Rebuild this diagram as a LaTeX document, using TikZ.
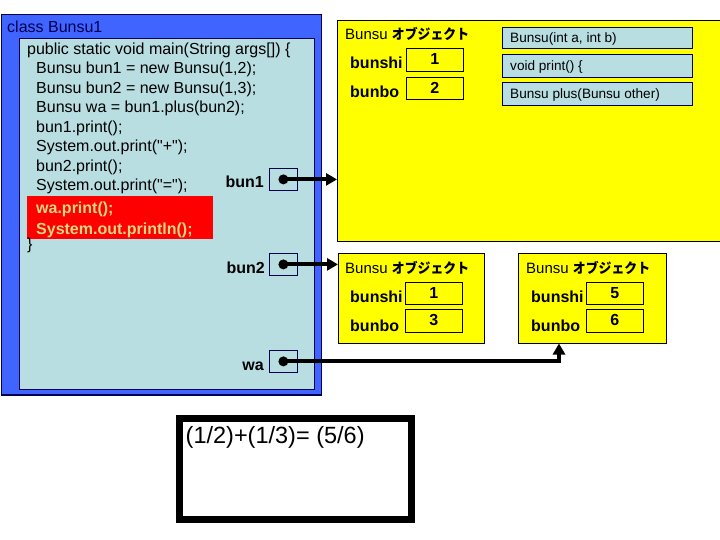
\documentclass[tikz,border=0pt]{standalone}
\usepackage{fontspec}
\setmainfont{Liberation Sans}
\newfontfamily\jp{Noto Sans CJK JP}
\usetikzlibrary{arrows.meta}
\definecolor{outerblue}{RGB}{64,100,255}
\definecolor{navy}{RGB}{0,0,80}
\definecolor{lblue}{RGB}{185,222,226}
\definecolor{yel}{RGB}{255,255,0}
\definecolor{hired}{RGB}{255,0,0}
\definecolor{khaki}{RGB}{225,215,130}
\tikzset{
  box/.style={rectangle, inner sep=0pt, anchor=north west},
  code/.style={anchor=base west, inner sep=0pt, font=\fontsize{16}{19}\selectfont},
  lab/.style={anchor=base west, inner sep=0pt, font=\fontsize{16}{19}\selectfont\bfseries},
  val/.style={box, draw=black, line width=0.8pt, font=\fontsize{16}{19}\selectfont\bfseries},
  meth/.style={box, draw=navy, fill=lblue, line width=0.8pt},
  methtext/.style={anchor=base west, inner sep=0pt, font=\fontsize{13.6}{15}\selectfont},
  title/.style={anchor=base west, inner sep=0pt, font=\fontsize{15}{18}\selectfont},
  ptr/.style={box, draw=navy, line width=0.8pt, minimum width=28pt, minimum height=22pt},
  dot/.style={circle, fill=black, inner sep=0pt, minimum size=10pt},
  arr/.style={line width=4pt, -{Triangle[length=11pt,width=12pt]}},
}
\newcommand{\kana}{{\jp\bfseries\fontsize{14}{16}\selectfont\scalebox{0.92}[1]{オブジェクト}}}
\begin{document}
\begin{tikzpicture}[x=1pt,y=-1pt]
\useasboundingbox (0,0) rectangle (720,540);
\clip (0,0) rectangle (720,540);
% class box
\node[box, fill=outerblue, draw=navy, line width=1.5pt, minimum width=320pt, minimum height=380pt] (outer) at (0.75,14) {};
\node[box, fill=lblue, draw=navy, line width=1pt, minimum width=295pt, minimum height=351pt] (inner) at (19,38) {};
\node[anchor=base west, inner sep=0pt, text=navy, font=\fontsize{16}{19}\selectfont] (cls) at (7,33) {class Bunsu1};
% red highlight
\node[box, fill=hired, minimum width=186pt, minimum height=43pt] (red) at (27,196) {};
% code lines
\node[code] (c1) at (27,54.5) {public static void main(String args[]) \{};
\node[code] (c2) at (36,74) {Bunsu bun1 = new Bunsu(1,2);};
\node[code] (c3) at (36,93.5) {Bunsu bun2 = new Bunsu(1,3);};
\node[code] (c4) at (36,113) {Bunsu wa = bun1.plus(bun2);};
\node[code] (c5) at (36,132.5) {bun1.print();};
\node[code] (c6) at (36,152) {System.out.print(\textquotedbl+\textquotedbl);};
\node[code] (c7) at (36,171.5) {bun2.print();};
\node[code] (c8) at (36,191) {System.out.print(\textquotedbl=\textquotedbl);};
\node[code, text=khaki, font=\fontsize{16}{19}\selectfont\bfseries] (c9) at (36,214) {wa.print();};
\node[code, text=khaki, font=\fontsize{16}{19}\selectfont\bfseries] (c10) at (36,234) {System.out.println();};
\node[code] (c11) at (27,249) {\}};
% pointer variables
\node[ptr] (p1) at (269,168) {};
\node[ptr] (p2) at (269,253) {};
\node[ptr] (p3) at (269,350) {};
\node[dot] (d1) at (p1.center) {};
\node[dot] (d2) at (p2.center) {};
\node[dot] (d3) at (p3.center) {};
\node[lab, anchor=base east] (l1) at (264,188) {bun1};
\node[lab, anchor=base east] (l2) at (265,273) {bun2};
\node[lab, anchor=base east] (l3) at (264,370) {wa};
% object 1 (big)
\node[box, fill=yel, draw=black, line width=1pt, minimum width=400pt, minimum height=221pt] (o1) at (337,20) {};
\node[title] (t1) at (345,40) {Bunsu \kana};
\node[lab] (o1a) at (350,69) {bunshi};
\node[val, minimum width=57pt, minimum height=23pt] (o1v1) at (406,48) {\raisebox{1.5pt}{1}};
\node[lab] (o1b) at (350,98) {bunbo};
\node[val, minimum width=57pt, minimum height=22pt] (o1v2) at (406,77) {\raisebox{1.5pt}{2}};
\node[meth, minimum width=190pt, minimum height=21pt] (m1) at (502,27) {};
\node[methtext] (m1t) at (510,43) {Bunsu(int a, int b)};
\node[meth, minimum width=190pt, minimum height=23pt] (m2) at (502,54) {};
\node[methtext] (m2t) at (510,71) {void print() \{};
\node[meth, minimum width=190pt, minimum height=23pt] (m3) at (502,82) {};
\node[methtext] (m3t) at (510,99) {Bunsu plus(Bunsu other)};
% object 2
\node[box, fill=yel, draw=black, line width=1pt, minimum width=146pt, minimum height=90pt] (o2) at (338,253) {};
\node[title] (t2) at (345,273) {Bunsu \kana};
\node[lab] (o2a) at (350,302) {bunshi};
\node[val, minimum width=57pt, minimum height=22pt] (o2v1) at (405,282) {\raisebox{1.5pt}{1}};
\node[lab] (o2b) at (350,331) {bunbo};
\node[val, minimum width=57pt, minimum height=23pt] (o2v2) at (405,309) {\raisebox{1.5pt}{3}};
% object 3
\node[box, fill=yel, draw=black, line width=1pt, minimum width=148pt, minimum height=90pt] (o3) at (518,253) {};
\node[title] (t3) at (526,273) {Bunsu \kana};
\node[lab] (o3a) at (531,302) {bunshi};
\node[val, minimum width=57pt, minimum height=22pt] (o3v1) at (586,282) {\raisebox{1.5pt}{5}};
\node[lab] (o3b) at (531,331) {bunbo};
\node[val, minimum width=57pt, minimum height=23pt] (o3v2) at (586,309) {\raisebox{1.5pt}{6}};
% arrows
\draw[arr] (d1.center) -- (d1.center -| o1.west);
\draw[arr] (d2.center) -- (d2.center -| o2.west);
\coordinate (wtip) at (559,343.5);
\draw[arr] (d3.center) -| (wtip);
% output console
\node[box, draw=black, line width=7pt, minimum width=232pt, minimum height=101pt] (out) at (176,414.5) {};
\node[anchor=base west, inner sep=0pt, font=\fontsize{23.5}{28}\selectfont] (outt) at (185.5,443) {(1/2)+(1/3)= (5/6)};
\end{tikzpicture}
\end{document}
